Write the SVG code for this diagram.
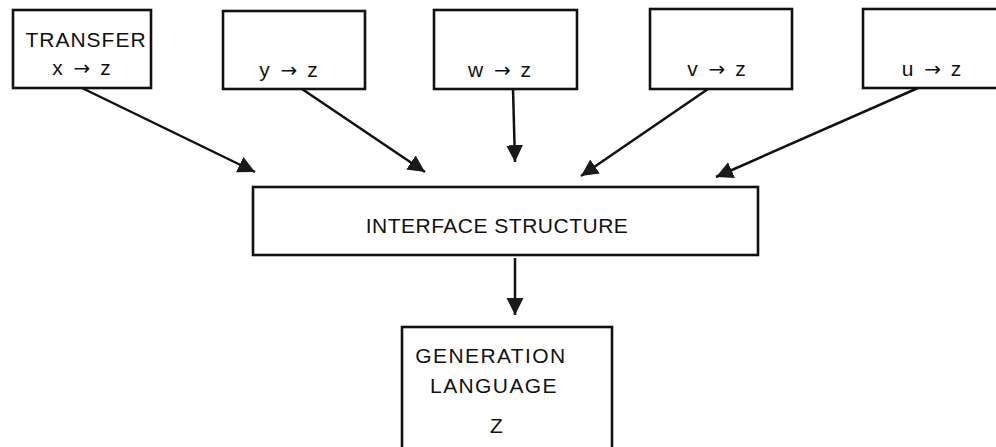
<svg xmlns="http://www.w3.org/2000/svg" width="996" height="447" viewBox="0 0 996 447">
  <style>
    .box { fill: #ffffff; stroke: #111111; stroke-width: 2.6; }
    .lbl { font-family: "Liberation Sans", Arial, Helvetica, sans-serif; font-size: 21px; fill: #111111; text-anchor: middle; letter-spacing: 1px; }
    .rule { word-spacing: 3px; }
    .arr { font-family: "DejaVu Sans", sans-serif; font-size: 20px; letter-spacing: 0; }
    .edge { stroke: #111111; stroke-width: 2.5; fill: none; marker-end: url(#head); }
  </style>
  <defs>
    <marker id="head" markerUnits="userSpaceOnUse" markerWidth="19" markerHeight="18" refX="17" refY="8.5" orient="auto">
      <path d="M0,0 L17,8.5 L0,17 Z" fill="#1a1a1a"/>
    </marker>
  </defs>
  <rect width="996" height="447" fill="#ffffff"/>

  <!-- source rules -->
  <g id="transfer-xz">
    <rect class="box" x="13" y="10" width="138" height="78"/>
    <text class="lbl" x="86" y="47">TRANSFER</text>
    <text class="lbl rule" x="82" y="75">x <tspan class="arr">→</tspan> z</text>
  </g>
  <g id="rule-yz">
    <rect class="box" x="223" y="11" width="142" height="78"/>
    <text class="lbl rule" x="289" y="77">y <tspan class="arr">→</tspan> z</text>
  </g>
  <g id="rule-wz">
    <rect class="box" x="434" y="10" width="143" height="79"/>
    <text class="lbl rule" x="500" y="77">w <tspan class="arr">→</tspan> z</text>
  </g>
  <g id="rule-vz">
    <rect class="box" x="650" y="9" width="142" height="80"/>
    <text class="lbl rule" x="717" y="76">v <tspan class="arr">→</tspan> z</text>
  </g>
  <g id="rule-uz">
    <rect class="box" x="863" y="9" width="140" height="79"/>
    <text class="lbl rule" x="932" y="76">u <tspan class="arr">→</tspan> z</text>
  </g>

  <!-- shared interface -->
  <g id="interface">
    <rect class="box" x="253" y="187" width="505" height="68"/>
    <text class="lbl" x="497" y="233" style="letter-spacing:0.5px">INTERFACE STRUCTURE</text>
  </g>

  <!-- target generation -->
  <g id="generation">
    <rect class="box" x="402" y="327" width="210" height="130"/>
    <text class="lbl" x="491" y="363" style="letter-spacing:1.4px">GENERATION</text>
    <text class="lbl" x="494" y="393" style="letter-spacing:1.4px">LANGUAGE</text>
    <text class="lbl" x="497" y="433">Z</text>
  </g>

  <g id="connectors">
    <line class="edge" x1="82" y1="88" x2="255" y2="172"/>
    <line class="edge" x1="302" y1="89" x2="425" y2="172"/>
    <line class="edge" x1="513" y1="89" x2="515" y2="162"/>
    <line class="edge" x1="708" y1="89" x2="581" y2="176"/>
    <line class="edge" x1="918" y1="88" x2="716" y2="177"/>
    <line class="edge" x1="515" y1="258" x2="515" y2="315"/>
  </g>
</svg>
